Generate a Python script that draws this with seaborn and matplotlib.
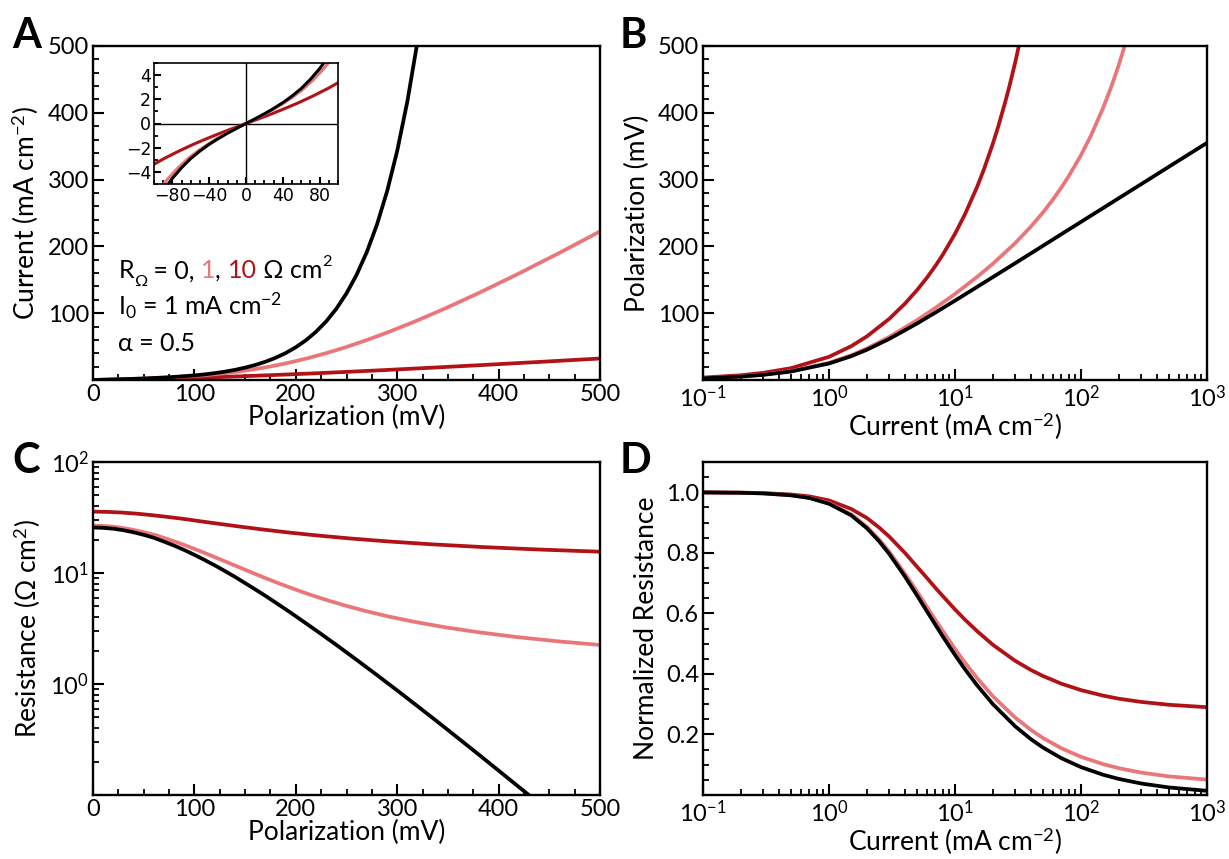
import numpy as np
import pandas as pd
import matplotlib
matplotlib.use("Agg")
import matplotlib.pyplot as plt
import seaborn as sns
from matplotlib.ticker import MultipleLocator, LogLocator, NullFormatter, FormatStrFormatter

sns.set_theme(style="ticks")
plt.rcParams['font.family'] = ['Lato', 'DejaVu Sans']
plt.rcParams['mathtext.fontset'] = 'custom'
plt.rcParams['mathtext.rm'] = 'Lato'
plt.rcParams['mathtext.it'] = 'Lato:italic'
plt.rcParams['mathtext.bf'] = 'Lato:bold'
plt.rcParams['mathtext.fallback'] = 'stixsans'
for k in ['text.color', 'axes.labelcolor', 'xtick.color', 'ytick.color', 'axes.edgecolor']:
    plt.rcParams[k] = 'black'

# colours for R_ohm = 0, 1, 10 ohm cm2
colors = {"0": "#000000", "1": "#E9777A", "10": "#B01218"}

# ---------------- Panel A: current vs polarization ----------------
a_v0 = [0, 25, 50, 75, 100, 110, 120, 130, 140, 150, 160, 170, 180, 190, 200, 210, 220, 230, 240, 250,
        260, 270, 280, 290, 300, 310, 320, 325]
a_i0 = [0, 1.01, 2.27, 4.08, 6.86, 8.39, 10.23, 12.47, 15.17, 18.5, 22.46, 27.3, 33.2, 40.3, 49.0, 59.5,
        72.3, 87.8, 106.7, 129.7, 157.6, 191.4, 232.4, 282.3, 343.0, 416.9, 506.4, 558.0]
a_v1 = [0, 26.0, 52.3, 79.1, 106.9, 118.4, 130.2, 142.5, 155.2, 168.5, 182.5, 197.3, 213.2, 230.3, 249.0,
        269.5, 292.3, 317.8, 346.7, 379.7, 417.6, 461.4, 512.4]
a_i1 = [0, 1.01, 2.27, 4.07, 6.86, 8.39, 10.23, 12.47, 15.17, 18.5, 22.46, 27.3, 33.2, 40.3, 49.0,
        59.5, 72.3, 87.8, 106.7, 129.7, 157.6, 191.4, 232.4]
a_v10 = [0, 13.9, 28.0, 42.3, 57.2, 72.7, 88.9, 106.5, 125.3, 145.9, 168.6, 193.9, 222.3, 254.7, 291.7,
         335.0, 384.6, 443.0, 512.0]
a_i10 = [0, 0.39, 0.80, 1.24, 1.72, 2.27, 2.89, 3.65, 4.53, 5.59, 6.86, 8.39, 10.23, 12.47, 15.17,
         18.5, 22.46, 27.3, 33.2]

# inset (small polarization window)
in_v0 = [-90, -80, -70, -60, -50, -40, -30, -20, -10, 0, 10, 20, 30, 40, 50, 60, 70, 80, 90]
in_i0 = [-5.58, -4.53, -3.65, -2.89, -2.27, -1.72, -1.24, -0.80, -0.39, 0, 0.39, 0.80, 1.24, 1.72,
         2.27, 2.89, 3.65, 4.53, 5.58]
in_v1 = [-95.6, -84.5, -73.7, -62.9, -52.3, -41.7, -31.2, -20.8, -10.4, 0, 10.4, 20.8, 31.2, 41.7,
         52.3, 62.9, 73.7, 84.5, 95.6]
in_i1 = [-5.59, -4.53, -3.65, -2.89, -2.27, -1.72, -1.24, -0.80, -0.39, 0, 0.39, 0.80, 1.24, 1.72,
         2.27, 2.89, 3.65, 4.53, 5.59]
in_v10 = [-106.5, -88.9, -72.7, -57.2, -42.3, -28.0, -13.9, 0, 13.9, 28.0, 42.3, 57.2, 72.7, 88.9, 106.5]
in_i10 = [-3.65, -2.89, -2.27, -1.72, -1.24, -0.80, -0.39, 0, 0.39, 0.80, 1.24, 1.72, 2.27, 2.89, 3.65]

# ---------------- Panel B: polarization vs current ----------------
b_i = [0.1, 0.2, 0.3, 0.5, 1, 1.5, 2, 3, 5, 7, 10, 15, 20, 30, 50, 70, 100, 150, 200, 300, 500, 700, 1000]
b_v0 = [2.57, 5.13, 7.68, 12.7, 24.7, 35.6, 45.3, 61.4, 84.6, 101.0, 118.8, 139.4, 154.1, 174.8, 201.0,
        218.4, 236.7, 257.5, 272.3, 293.1, 319.4, 336.7, 355.0]
b_i1 = [0.1, 0.2, 0.3, 0.5, 1, 1.5, 2, 3, 5, 7, 10, 15, 20, 30, 40, 50, 60, 70, 80, 100, 120, 150, 175,
        200, 230]
b_v1 = [2.67, 5.33, 7.98, 13.2, 25.7, 37.1, 47.3, 64.4, 89.6, 108.0, 128.8, 154.4, 174.1, 204.8, 229.6,
        251.0, 270.4, 288.4, 305.2, 336.7, 366.0, 407.5, 440.4, 472.3, 509.5]
b_i10 = [0.1, 0.2, 0.3, 0.5, 1, 1.5, 2, 3, 4, 5, 6, 7, 8, 10, 12, 15, 17, 20, 22, 25, 27, 30, 34]
b_v10 = [3.57, 7.13, 10.68, 17.7, 34.7, 50.6, 65.3, 91.4, 114.2, 134.6, 153.4, 171.0, 187.6, 218.8,
         248.1, 289.4, 315.8, 354.1, 379.0, 415.6, 439.5, 474.8, 521.2]

# ---------------- Panel C: resistance vs polarization ----------------
c_v0 = [0, 10, 20, 30, 40, 50, 60, 70, 80, 90, 100, 110, 120, 130, 140, 150, 160, 170, 180, 190, 200,
        220, 240, 260, 280, 300, 320, 340, 360, 380, 400, 420, 440]
c_r0 = [25.7, 25.53, 25.06, 24.29, 23.27, 22.07, 20.77, 19.18, 17.66, 16.11, 14.58, 13.11, 11.73, 10.43,
        9.23, 8.11, 7.12, 6.23, 5.42, 4.71, 4.08, 3.04, 2.25, 1.65, 1.205, 0.875, 0.632, 0.455, 0.326,
        0.233, 0.166, 0.118, 0.0841]
c_v1 = [0, 10.4, 20.8, 31.2, 41.7, 52.3, 62.9, 73.7, 84.5, 95.6, 106.9, 118.4, 130.2, 142.5, 155.2,
        168.5, 182.5, 197.3, 213.2, 230.3, 249.0, 269.5, 292.3, 317.8, 346.7, 379.7, 417.6, 461.4, 512.4]
c_r1 = [26.7, 26.53, 26.06, 25.29, 24.27, 23.07, 21.77, 20.18, 18.66, 17.11, 15.58, 14.11, 12.73, 11.43,
        10.23, 9.11, 8.12, 7.23, 6.42, 5.71, 5.08, 4.53, 4.04, 3.62, 3.25, 2.93, 2.65, 2.41, 2.20]
c_v10 = a_v10
c_r10 = [35.7, 35.53, 35.06, 34.29, 33.27, 32.07, 30.77, 29.18, 27.66, 26.11, 24.58, 23.11, 21.73, 20.43,
         19.23, 18.11, 17.12, 16.23, 15.42]

# ---------------- Panel D: normalized resistance vs current ----------------
d_i = [0.1, 0.2, 0.3, 0.5, 0.7, 1, 1.5, 2, 2.5, 3, 4, 5, 6, 7, 8, 10, 12, 15, 20, 30, 40, 50, 70, 100,
       150, 200, 300, 500, 1000]
d_r0 = [0.9996, 0.9983, 0.9963, 0.990, 0.9811, 0.962, 0.924, 0.881, 0.8381, 0.797, 0.722, 0.659, 0.6062,
        0.562, 0.5237, 0.4625, 0.4153, 0.362, 0.300, 0.227, 0.1845, 0.1565, 0.1214, 0.0921, 0.0668,
        0.0530, 0.0380, 0.0249, 0.0138]
d_r1 = [0.9996, 0.9984, 0.9964, 0.990, 0.9818, 0.964, 0.927, 0.886, 0.8442, 0.804, 0.732, 0.672, 0.6209,
        0.578, 0.5416, 0.4826, 0.4372, 0.386, 0.326, 0.256, 0.2151, 0.188, 0.1543, 0.126, 0.1018,
        0.0885, 0.0740, 0.0614, 0.0508]
d_r10 = [0.9997, 0.9988, 0.9973, 0.9927, 0.9864, 0.973, 0.945, 0.915, 0.8835, 0.854, 0.800, 0.754,
         0.7165, 0.684, 0.6572, 0.613, 0.5791, 0.541, 0.496, 0.4434, 0.4130, 0.393, 0.3675, 0.3465,
         0.3282, 0.318, 0.3075, 0.298, 0.290]

LW = 2.7
FS = 17      # tick labels
LFS = 19     # axis labels


def draw_curves(ax, curves, lw=LW):
    # dark red first, black on top
    for r in ["10", "1", "0"]:
        x, y = curves[r]
        df = pd.DataFrame({"x": x, "y": y})
        sns.lineplot(data=df, x="x", y="y", ax=ax, color=colors[r], linewidth=lw,
                     sort=False, estimator=None)
    ax.set_xlabel("")
    ax.set_ylabel("")


def style_axes(ax, fs=FS, big=8, small=4.5):
    for s in ax.spines.values():
        s.set_linewidth(1.7)
        s.set_color("black")
    ax.tick_params(which="both", direction="in", top=False, right=False,
                   labelsize=fs, colors="black", pad=3)
    ax.tick_params(which="major", length=big, width=1.5)
    ax.tick_params(which="minor", length=small, width=1.3)


fig = plt.figure(figsize=(12.29, 8.59), dpi=100)
W, H = 1229, 859


def box(x0, y0, x1, y1):
    return [x0 / W, 1 - y1 / H, (x1 - x0) / W, (y1 - y0) / H]


axA = fig.add_axes(box(93, 46, 600, 380))
axB = fig.add_axes(box(703, 46, 1207, 380))
axC = fig.add_axes(box(93, 462, 600, 795))
axD = fig.add_axes(box(703, 462, 1207, 795))

# Panel A
draw_curves(axA, {"0": (a_v0, a_i0), "1": (a_v1, a_i1), "10": (a_v10, a_i10)})
axA.set_xlim(0, 500)
axA.set_ylim(0, 500)
axA.set_xticks([0, 100, 200, 300, 400, 500])
axA.set_yticks([100, 200, 300, 400, 500])
axA.xaxis.set_minor_locator(MultipleLocator(25))
axA.yaxis.set_minor_locator(MultipleLocator(20))
style_axes(axA)
axA.set_xlabel("Polarization (mV)", fontsize=LFS, labelpad=0)
axA.set_ylabel(r"Current (mA cm$^{-2}$)", fontsize=LFS, labelpad=5)

# multi-coloured annotation line
fig.canvas.draw()
renderer = fig.canvas.get_renderer()
AFS = 18
x0 = 0.05
pieces = [("R", "black", 0), ("Ω", "black", -1), (" = 0, ", "black", 0), ("1", colors["1"], 0),
          (", ", "black", 0), ("10", colors["10"], 0), (" Ω cm", "black", 0), ("2", "black", 1)]
xpos = x0
for txt, col, shift in pieces:
    size = AFS if shift == 0 else AFS * 0.65
    dy = {0: 0, -1: -0.025, 1: 0.035}[shift]
    t = axA.text(xpos, 0.305 + dy, txt, transform=axA.transAxes, fontsize=size, color=col,
                 va="baseline", ha="left")
    bb = t.get_window_extent(renderer)
    xpos += bb.width / axA.get_window_extent(renderer).width
axA.text(x0, 0.195, r"I$_0$ = 1 mA cm$^{-2}$", transform=axA.transAxes, fontsize=AFS, va="baseline")
axA.text(x0, 0.088, "α = 0.5", transform=axA.transAxes, fontsize=AFS, va="baseline")

# inset
axI = fig.add_axes(box(154, 63, 338, 184))
axI.axhline(0, color="black", lw=1.0)
axI.axvline(0, color="black", lw=1.0)
draw_curves(axI, {"0": (in_v0, in_i0), "1": (in_v1, in_i1), "10": (in_v10, in_i10)}, lw=2.2)
axI.set_xlim(-100, 100)
axI.set_ylim(-5, 5)
axI.set_xticks([-80, -40, 0, 40, 80])
axI.set_yticks([-4, -2, 0, 2, 4])
axI.xaxis.set_minor_locator(MultipleLocator(10))
axI.yaxis.set_minor_locator(MultipleLocator(1))
style_axes(axI, fs=12.5, big=5, small=3)
for s in axI.spines.values():
    s.set_linewidth(1.2)
for lab in axI.get_xticklabels() + axI.get_yticklabels():
    lab.set_fontfamily("DejaVu Sans")
axI.tick_params(pad=2)

# Panel B
draw_curves(axB, {"0": (b_i, b_v0), "1": (b_i1, b_v1), "10": (b_i10, b_v10)})
axB.set_xscale("log")
axB.set_xlim(0.1, 1000)
axB.set_ylim(0, 500)
axB.set_yticks([100, 200, 300, 400, 500])
axB.yaxis.set_minor_locator(MultipleLocator(20))
axB.xaxis.set_minor_locator(LogLocator(base=10, subs=np.arange(2, 10)))
axB.xaxis.set_minor_formatter(NullFormatter())
style_axes(axB)
axB.set_xlabel(r"Current (mA cm$^{-2}$)", fontsize=LFS, labelpad=0)
axB.set_ylabel("Polarization (mV)", fontsize=LFS, labelpad=5)

# Panel C
draw_curves(axC, {"0": (c_v0, c_r0), "1": (c_v1, c_r1), "10": (c_v10, c_r10)})
axC.set_yscale("log")
axC.set_xlim(0, 500)
axC.set_ylim(0.1, 100)
axC.set_xticks([0, 100, 200, 300, 400, 500])
axC.set_yticks([1, 10, 100])
axC.xaxis.set_minor_locator(MultipleLocator(25))
axC.yaxis.set_minor_locator(LogLocator(base=10, subs=np.arange(2, 10)))
axC.yaxis.set_minor_formatter(NullFormatter())
style_axes(axC)
axC.set_xlabel("Polarization (mV)", fontsize=LFS, labelpad=0)
axC.set_ylabel(r"Resistance ($\Omega$ cm$^2$)", fontsize=LFS, labelpad=5)

# Panel D
draw_curves(axD, {"0": (d_i, d_r0), "1": (d_i, d_r1), "10": (d_i, d_r10)})
axD.set_xscale("log")
axD.set_xlim(0.1, 1000)
axD.set_ylim(0, 1.1)
axD.set_yticks([0.2, 0.4, 0.6, 0.8, 1.0])
axD.yaxis.set_major_formatter(FormatStrFormatter("%.1f"))
axD.yaxis.set_minor_locator(MultipleLocator(0.05))
axD.xaxis.set_minor_locator(LogLocator(base=10, subs=np.arange(2, 10)))
axD.xaxis.set_minor_formatter(NullFormatter())
style_axes(axD)
axD.set_xlabel(r"Current (mA cm$^{-2}$)", fontsize=LFS, labelpad=0)
axD.set_ylabel("Normalized Resistance", fontsize=LFS, labelpad=5)

# panel letters
for letter, (px, py) in {"A": (12, 48), "B": (620, 48), "C": (12, 473), "D": (620, 473)}.items():
    fig.text(px / W, 1 - py / H, letter, fontsize=30, fontweight="bold", va="baseline", ha="left")

fig.savefig("out.png", dpi=100)
